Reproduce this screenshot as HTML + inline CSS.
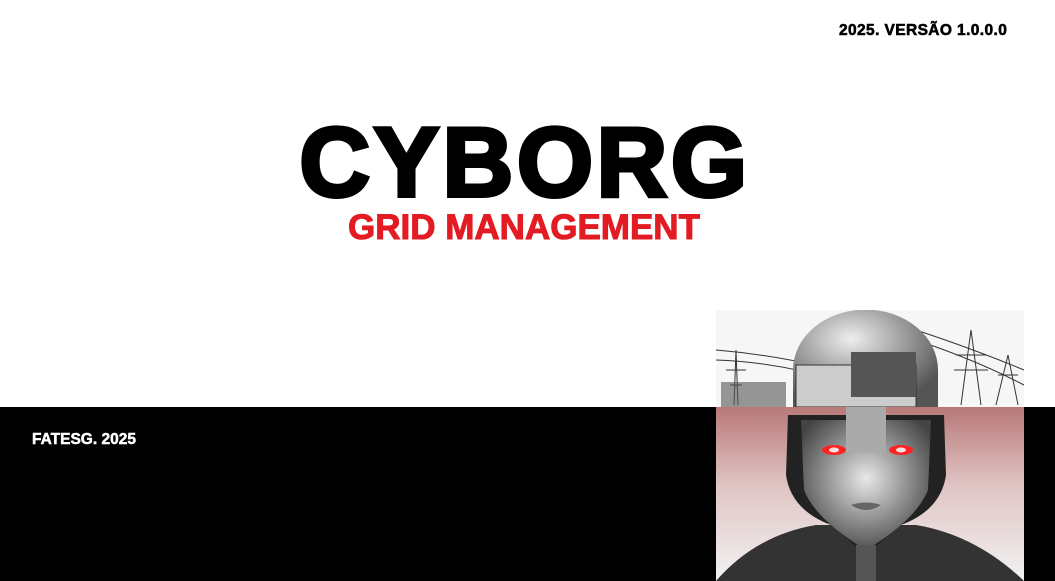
<!DOCTYPE html>
<html><head><meta charset="utf-8"><style>
html,body{margin:0;padding:0;width:1055px;height:581px;overflow:hidden;background:#fff;font-family:"Liberation Sans",sans-serif;}
.abs{position:absolute;}
</style></head><body>
<div class="abs" style="left:0;top:0;width:1055px;height:407px;background:#fff"></div>
<div class="abs" style="left:0;top:407px;width:1055px;height:174px;background:#000"></div>
<div class="abs" style="left:839px;top:22px;font-weight:bold;font-size:15.5px;color:#000;white-space:nowrap;letter-spacing:0.4px;-webkit-text-stroke:0.6px #000">2025. VERSÃO 1.0.0.0</div>
<div class="abs" style="left:0;width:1050px;top:107px;text-align:center;font-weight:900;font-size:98px;line-height:110px;color:#000;letter-spacing:3.5px;-webkit-text-stroke:4px #000">CYBORG</div>
<div class="abs" style="left:0;width:1048px;top:209px;text-align:center;font-weight:bold;font-size:35px;line-height:38px;color:#e31b23;-webkit-text-stroke:1px #e31b23">GRID MANAGEMENT</div>
<div class="abs" style="left:32px;top:431px;font-weight:bold;font-size:15.5px;color:#fff;-webkit-text-stroke:0.5px #fff">FATESG. 2025</div>
<svg class="abs" style="left:716px;top:310px" width="308" height="271" viewBox="0 0 308 271">
<defs>
<linearGradient id="bg" x1="0" y1="0" x2="0" y2="1"><stop offset="0" stop-color="#b87878"/><stop offset="0.45" stop-color="#e0c4c4"/><stop offset="1" stop-color="#f2f2f2"/></linearGradient>
<radialGradient id="dome" cx="0.4" cy="0.3" r="0.7"><stop offset="0" stop-color="#eee"/><stop offset="1" stop-color="#555"/></radialGradient>
<radialGradient id="face" cx="0.5" cy="0.45" r="0.6"><stop offset="0" stop-color="#e8e8e8"/><stop offset="1" stop-color="#444"/></radialGradient>
</defs>
<rect x="0" y="0" width="308" height="97" fill="#f6f6f6"/>
<g stroke="#333" stroke-width="1" fill="none">
<path d="M0 40 Q60 45 120 60"/><path d="M0 50 Q60 52 120 70"/><path d="M200 20 Q260 40 308 60"/><path d="M200 30 Q260 50 308 75"/>
<path d="M18 95 L20 40 L22 95 M10 60 L30 60 M14 75 L26 75"/>
<path d="M245 95 L255 20 L265 95 M240 45 L270 45 M238 60 L272 60"/>
<path d="M280 95 L292 45 L302 95 M282 65 L302 65"/>
</g>
<rect x="5" y="72" width="65" height="25" fill="#555" opacity="0.6"/>
<path d="M77 97 L77 60 A72 60 0 0 1 222 60 L222 97 Z" fill="url(#dome)"/>
<rect x="80" y="55" width="120" height="42" fill="#ccc" stroke="#333"/>
<rect x="135" y="42" width="65" height="45" fill="#555"/>
<rect x="0" y="97" width="308" height="174" fill="url(#bg)"/>
<path d="M0 271 Q40 225 100 215 L200 215 Q260 225 308 271 Z" fill="#333"/>
<path d="M72 105 L70 165 Q75 200 115 215 L150 245 L185 215 Q225 200 230 165 L228 105 Z" fill="#222"/>
<path d="M85 110 L88 180 Q100 210 150 240 Q200 210 212 180 L215 110 Z" fill="url(#face)"/>
<rect x="130" y="97" width="40" height="45" fill="#aaa"/>
<ellipse cx="118" cy="140" rx="12" ry="5" fill="#ff2222"/>
<ellipse cx="185" cy="140" rx="12" ry="5" fill="#ff2222"/>
<ellipse cx="118" cy="140" rx="5" ry="2.5" fill="#ffdede"/>
<ellipse cx="185" cy="140" rx="5" ry="2.5" fill="#ffdede"/>
<path d="M135 195 Q150 190 165 195 Q150 205 135 195Z" fill="#666"/>
<rect x="140" y="235" width="20" height="36" fill="#555"/>
</svg>
</body></html>
